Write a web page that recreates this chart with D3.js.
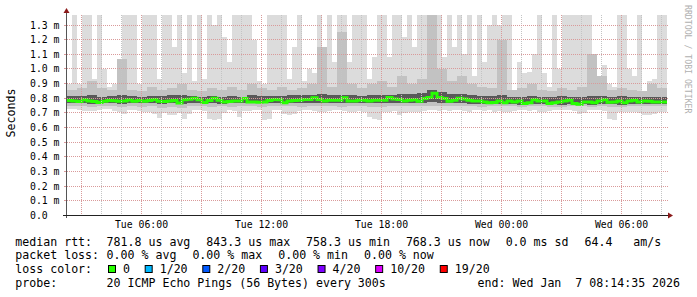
<!DOCTYPE html>
<html><head><meta charset="utf-8">
<script src="https://cdn.jsdelivr.net/npm/d3@7"></script>
<style>
html,body{margin:0;padding:0;background:#fff;}
svg{display:block;}
text{font-family:"DejaVu Sans Mono",monospace;}
</style></head><body>
<svg id="c" width="697" height="297"></svg>
<script>
// ---- data (ms) ----
// 120 buckets of 15 minutes
const medianRtt = [
0.785,0.782,0.778,0.79,0.782,0.778,0.772,0.78,0.785,0.783,0.78,0.782,0.788,0.78,0.785,0.78,0.785,0.792,0.78,0.778,0.782,0.785,0.768,0.79,0.793,0.8,0.79,0.772,0.785,0.8,
0.787,0.775,0.778,0.782,0.782,0.798,0.775,0.775,0.773,0.775,0.785,0.792,0.79,0.77,0.782,0.785,0.787,0.792,0.792,0.803,0.792,0.782,0.787,0.787,0.787,0.803,0.782,0.782,0.787,0.787,
0.782,0.787,0.787,0.787,0.805,0.795,0.792,0.782,0.787,0.79,0.78,0.798,0.805,0.835,0.805,0.798,0.78,0.787,0.8,0.795,0.787,0.782,0.782,0.775,0.77,0.772,0.782,0.77,0.782,0.775,
0.782,0.765,0.77,0.79,0.782,0.782,0.765,0.77,0.775,0.782,0.787,0.765,0.76,0.775,0.775,0.77,0.782,0.79,0.773,0.775,0.782,0.77,0.782,0.787,0.775,0.782,0.78,0.775,0.775,0.775];
const smokeMax = [
0.9,1.5,0.9,1.5,1.5,0.93,1.5,1.0,0.88,0.9,1.07,1.5,1.5,1.5,0.9,1.5,1.5,1.5,0.93,1.5,1.5,1.15,1.5,0.97,1.5,0.92,1.5,0.93,1.5,1.3,
1.5,1.22,1.05,1.5,1.5,1.5,1.5,1.2,0.92,0.9,1.5,1.5,1.5,1.5,0.93,1.15,1.5,0.92,1.0,0.97,1.5,1.05,1.5,1.05,1.5,1.5,1.05,1.5,1.5,1.5,
0.93,1.08,1.5,1.5,1.08,1.5,1.5,1.22,1.5,1.15,1.5,1.5,1.5,1.5,1.5,1.08,1.5,1.15,1.5,1.1,1.5,0.95,1.5,1.05,1.3,1.5,1.3,1.5,1.5,0.84,
1.05,0.97,0.98,1.1,1.5,0.97,0.88,1.5,1.0,1.5,1.5,1.5,1.5,1.5,1.5,1.1,0.95,1.03,0.9,0.88,1.5,1.5,1.0,0.95,1.5,0.84,0.92,0.93,1.5,1.5];
const smokeMin = [
0.73,0.73,0.72,0.71,0.71,0.715,0.718,0.725,0.73,0.71,0.705,0.696,0.718,0.72,0.715,0.707,0.707,0.69,0.665,0.7,0.684,0.684,0.7,0.662,0.696,0.718,0.718,0.71,0.662,0.65,
0.662,0.7,0.718,0.715,0.673,0.71,0.715,0.718,0.718,0.65,0.66,0.718,0.718,0.69,0.684,0.69,0.71,0.718,0.718,0.715,0.707,0.707,0.71,0.718,0.718,0.712,0.707,0.707,0.71,0.707,
0.673,0.66,0.65,0.707,0.707,0.71,0.684,0.7,0.707,0.707,0.707,0.715,0.718,0.718,0.715,0.718,0.712,0.718,0.718,0.715,0.707,0.718,0.718,0.712,0.718,0.707,0.712,0.707,0.707,0.712,
0.718,0.718,0.715,0.718,0.707,0.707,0.71,0.718,0.718,0.718,0.718,0.715,0.696,0.7,0.718,0.718,0.718,0.715,0.66,0.65,0.707,0.707,0.707,0.707,0.7,0.684,0.684,0.69,0.707,0.707];
// 60 buckets of 30 minutes
const smokeHi90 = [
0.86,0.87,0.92,0.87,0.86,1.07,0.86,0.85,0.88,0.86,
0.87,0.9,0.86,0.85,0.87,0.86,0.88,0.86,0.9,0.87,
0.86,0.88,0.86,0.87,0.9,1.15,0.88,1.25,0.9,0.87,
0.9,0.92,0.88,0.95,0.9,0.93,1.5,1.0,0.92,0.95,
0.9,0.88,0.87,1.2,0.86,0.87,0.9,0.86,0.85,0.87,
0.86,0.88,1.1,0.95,0.86,0.87,0.86,0.85,0.9,0.87];
const smokeLo10 = [
0.745,0.745,0.74,0.745,0.745,0.74,0.745,0.74,0.745,0.735,
0.74,0.735,0.745,0.745,0.74,0.745,0.74,0.745,0.745,0.74,
0.745,0.745,0.745,0.74,0.745,0.745,0.745,0.74,0.745,0.745,
0.74,0.74,0.745,0.745,0.745,0.745,0.745,0.75,0.745,0.745,
0.745,0.74,0.745,0.745,0.745,0.74,0.745,0.745,0.74,0.74,
0.745,0.745,0.74,0.745,0.74,0.74,0.745,0.745,0.745,0.745];
const smokeHi75 = [
0.815,0.815,0.82,0.812,0.815,0.82,0.815,0.812,0.818,0.815,
0.82,0.825,0.815,0.81,0.815,0.812,0.815,0.812,0.82,0.815,
0.815,0.818,0.82,0.82,0.825,0.83,0.82,0.825,0.82,0.815,
0.82,0.825,0.82,0.83,0.83,0.835,0.86,0.84,0.83,0.83,
0.825,0.815,0.815,0.82,0.81,0.81,0.815,0.81,0.812,0.815,
0.81,0.812,0.815,0.815,0.81,0.815,0.812,0.81,0.81,0.81];
const smokeLo25 = [
0.765,0.765,0.762,0.765,0.765,0.762,0.765,0.765,0.765,0.76,
0.765,0.76,0.765,0.765,0.765,0.762,0.765,0.765,0.765,0.765,
0.765,0.765,0.765,0.765,0.765,0.768,0.765,0.765,0.765,0.768,
0.765,0.765,0.768,0.768,0.77,0.77,0.775,0.77,0.768,0.765,
0.762,0.76,0.76,0.762,0.758,0.755,0.758,0.76,0.76,0.755,
0.76,0.758,0.755,0.758,0.76,0.755,0.758,0.758,0.758,0.758];

const yTicks = [0,0.1,0.2,0.3,0.4,0.5,0.6,0.7,0.8,0.9,1.0,1.1,1.2,1.3];
const yTickLabels = ["0.0","0.1 m","0.2 m","0.3 m","0.4 m","0.5 m","0.6 m","0.7 m","0.8 m","0.9 m","1.0 m","1.1 m","1.2 m","1.3 m"];
const xTickTimes = [Date.UTC(2026,0,6,6),Date.UTC(2026,0,6,12),Date.UTC(2026,0,6,18),Date.UTC(2026,0,7,0),Date.UTC(2026,0,7,6)];
const xTickLabels = ["Tue 06:00","Tue 12:00","Tue 18:00","Wed 00:00","Wed 06:00"];

const rowLabels = ["median rtt:","packet loss:","loss color:","probe:"];
const rttStats = ["781.8 us avg","843.3 us max","758.3 us min","768.3 us now","0.0 ms sd","64.4   am/s"];
const lossStats = ["0.00 % avg","0.00 % max","0.00 % min","0.00 % now"];
const lossLevels = ["0","1/20","2/20","3/20","4/20","10/20","19/20"];
const lossColors = ["#26ff00","#00b8ff","#0059ff","#5e00ff","#7e00ff","#dd00ff","#ff0000"];
const probeText = "20 ICMP Echo Pings (56 Bytes) every 300s";
const endText = "end: Wed Jan  7 08:14:35 2026";
const yAxisTitle = "Seconds";
const watermark = "RRDTOOL / TOBI OETIKER";

// ---- layout ----
const plot = {l:67, r:667, t:15, b:215.5};
const startTime = Date.UTC(2026,0,6,2,16,30);
const endTime = Date.UTC(2026,0,7,8,16,30);
const yMax = 1.3686;
const x = d3.scaleUtc().domain([new Date(startTime), new Date(endTime)]).range([plot.l, plot.r]);
const y = d3.scaleLinear().domain([0, yMax]).range([plot.b, plot.t]);

const svg = d3.select("#c");
svg.append("rect").attr("width",697).attr("height",297).attr("fill","#fff");
svg.append("defs").append("clipPath").attr("id","pc")
  .append("rect").attr("x",plot.l).attr("y",plot.t).attr("width",plot.r-plot.l).attr("height",plot.b-plot.t);

function series(arr){
  const step=(endTime-startTime)/arr.length;
  const pts=arr.map((v,i)=>({t:new Date(startTime+i*step), v}));
  pts.push({t:new Date(endTime), v:arr[arr.length-1]});
  return pts;
}
const g = svg.append("g").attr("clip-path","url(#pc)");
function band(lo, hi, color){
  const L=series(lo), U=series(hi);
  const pts=L.map((p,i)=>({t:p.t, lo:p.v, hi:U[i].v}));
  g.append("path").datum(pts)
   .attr("d", d3.area().curve(d3.curveStepAfter).x(d=>x(d.t)).y0(d=>y(d.lo)).y1(d=>y(Math.min(d.hi,yMax+0.05))))
   .attr("fill",color).attr("shape-rendering","crispEdges");
}
band(smokeMin, smokeMax, "#dcdcdc");
band(smokeLo10, smokeHi90, "#c2c2c2");
band(smokeLo25, smokeHi75, "#595959");

// grid on top of smoke
const grid = svg.append("g");
d3.utcHour.range(new Date(startTime), new Date(endTime)).forEach(h=>{
  const xp = Math.round(x(h)-0.5)+0.5;
  const major = h.getUTCHours()%3===0;
  grid.append("line").attr("x1",xp).attr("x2",xp).attr("y1",plot.t).attr("y2",plot.b)
    .attr("stroke", major ? "#d99a9a" : "#c4c4c4").attr("stroke-dasharray","1,1").attr("stroke-width",1);
});
yTicks.forEach((v,i)=>{
  if(i===0) return;
  const yp = Math.floor(y(v))+0.5;
  grid.append("line").attr("x1",plot.l).attr("x2",plot.r+1).attr("y1",yp).attr("y2",yp)
    .attr("stroke","#d99a9a").attr("stroke-dasharray","1,1");
  grid.append("line").attr("x1",plot.l-3).attr("x2",plot.l).attr("y1",yp).attr("y2",yp).attr("stroke","#d99a9a");
});

// median line
g.append("path").datum(series(medianRtt))
  .attr("d", d3.line().curve(d3.curveStepAfter).x(d=>x(d.t)).y(d=>y(d.v)))
  .attr("fill","none").attr("stroke",lossColors[0]).attr("stroke-width",3);

// axes
const ax = svg.append("g");
ax.append("line").attr("x1",plot.l-0.5).attr("x2",plot.l-0.5).attr("y1",218).attr("y2",12).attr("stroke","#555");
ax.append("line").attr("x1",63).attr("x2",669).attr("y1",215.5).attr("y2",215.5).attr("stroke","#222");
ax.append("path").attr("d",`M${plot.l-3.5},13 L${plot.l-0.5},8 L${plot.l+2.5},13 Z`).attr("fill","#8b1a1a");
ax.append("path").attr("d",`M668,212.5 L673,215.5 L668,218.5 Z`).attr("fill","#8b1a1a");

// y tick labels
yTicks.forEach((v,i)=>{
  svg.append("text").attr("x",30).attr("y",Math.floor(y(v))+4)
    .attr("font-size","9.8px").attr("fill","#000").text(yTickLabels[i]);
});
// x tick labels
xTickTimes.forEach((t,i)=>{
  svg.append("text").attr("x",x(new Date(t))).attr("y",228).attr("text-anchor","middle")
    .attr("font-size","9.8px").attr("fill","#000").text(xTickLabels[i]);
});

// y title
svg.append("text").attr("transform","translate(15,113) rotate(-90)").attr("text-anchor","middle")
  .attr("font-size","11.6px").attr("fill","#000").text(yAxisTitle);
// watermark
svg.append("text").attr("transform","translate(685,5) rotate(90)")
  .attr("font-size","8.2px").attr("fill","#b0b0b0").text(watermark);

// legend
const cw = 6.98, fs = "11.6px";
const rowsY = [245.6, 259.4, 273.2, 287];
function txt(xp, yp, s){
  svg.append("text").attr("x",xp).attr("y",yp).attr("font-size",fs).attr("fill","#000")
    .style("white-space","pre").text(s);
}
rowLabels.forEach((s,i)=>txt(15.3, rowsY[i], s));
let xp = 106.6;
rttStats.forEach(s=>{ txt(xp, rowsY[0], s); xp += s.length*cw + 16; });
xp = 106.6;
lossStats.forEach(s=>{ txt(xp, rowsY[1], s); xp += s.length*cw + 16; });
xp = 108;
lossLevels.forEach((s,i)=>{
  svg.append("rect").attr("x",xp+0.5).attr("y",265.5).attr("width",7).attr("height",7)
    .attr("fill",lossColors[i]).attr("stroke","#000").attr("stroke-width",1);
  txt(xp+15, rowsY[2], s);
  xp += 15.7 + s.length*cw + 14;
});
txt(106.6, rowsY[3], probeText);
txt(477.6, rowsY[3], endText);
</script>
</body></html>
